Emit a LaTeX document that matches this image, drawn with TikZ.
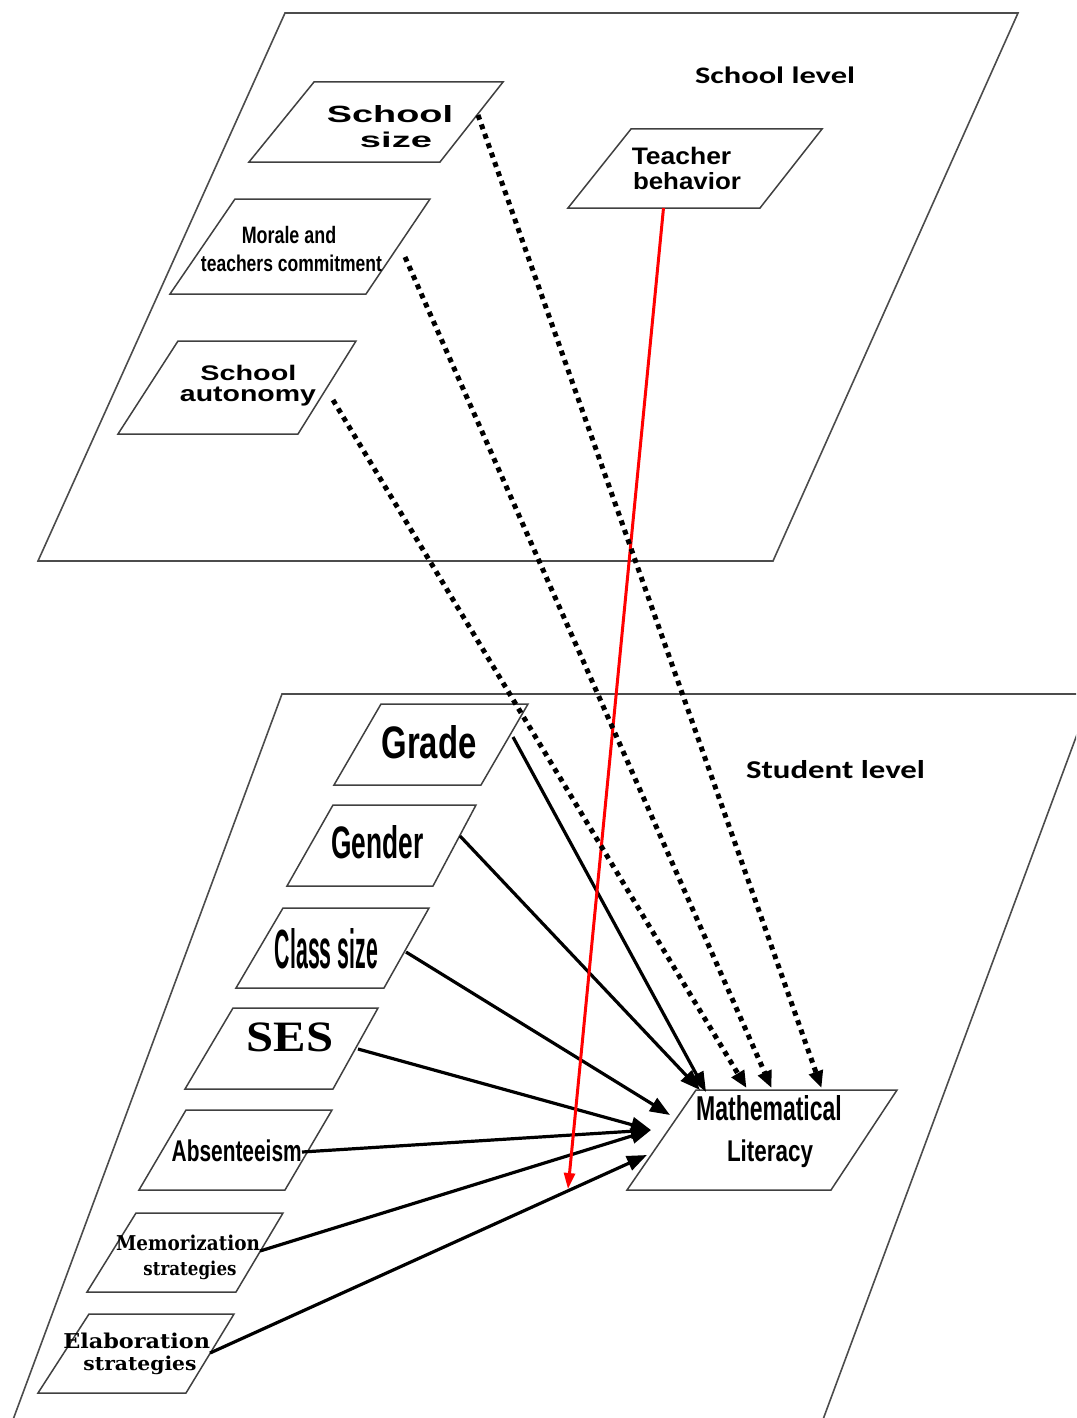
\documentclass[tikz,border=0pt]{standalone}
\usepackage{fontspec}
\usepackage{graphicx}
\usetikzlibrary{arrows.meta}
\newfontfamily\lsans{Liberation Sans}
\newfontfamily\lserif{Liberation Serif}
\newfontfamily\dvserif{DejaVu Serif}
\newfontfamily\calib{Carlito}
\newcommand{\fitt}[3]{\resizebox{#1pt}{#2pt}{#3}}
\begin{document}
\begin{tikzpicture}[x=1pt,y=-1pt,
  plane/.style={draw=black!70, line width=1.6pt},
  pbox/.style={draw=black!75, line width=1.5pt},
  lbl/.style={anchor=base, inner sep=0pt, outer sep=0pt},
  solidarrow/.style={draw=black, line width=3.2pt, -{Triangle[length=20pt,width=15pt]}},
  dotarrow/.style={draw=black, line width=5pt, dash pattern=on 5pt off 5pt, -{Triangle[length=17pt,width=14pt]}},
  redarrow/.style={draw=red, line width=3pt, -{Triangle[length=16pt,width=11pt]}},
  sansb/.style={font=\lsans\bfseries},
]
\useasboundingbox (0,0) rectangle (1076,1418);
\clip (0,0) rectangle (1076,1418);

% planes
\draw[plane] (285,13) -- (1018,13) -- (773,561) -- (38,561) -- cycle;
\draw[plane] (282,694) -- (1092,694) -- (815.4,1440) -- (5.5,1440) -- cycle;

% school-level boxes
\draw[pbox] (314,82) -- (503,82) -- (440,162) -- (249,162) -- cycle;
\draw[pbox] (631,129) -- (822,129) -- (760,208) -- (568,208) -- cycle;
\draw[pbox] (235,199) -- (430,199) -- (366,294) -- (170,294) -- cycle;
\draw[pbox] (178,341) -- (356,341) -- (298,434) -- (118,434) -- cycle;

% student-level boxes
\draw[pbox] (381,704) -- (528,704) -- (481,785) -- (334,785) -- cycle;
\draw[pbox] (333,805) -- (476,805) -- (433,886) -- (287,886) -- cycle;
\draw[pbox] (283,908) -- (429,908) -- (384,988) -- (236,988) -- cycle;
\draw[pbox] (233,1008) -- (378,1008) -- (333,1089) -- (185,1089) -- cycle;
\draw[pbox] (186,1110) -- (332,1110) -- (285,1190) -- (139,1190) -- cycle;
\draw[pbox] (136,1213) -- (283,1213) -- (236,1292) -- (87,1292) -- cycle;
\draw[pbox] (89,1314) -- (234,1314) -- (186,1393) -- (38,1393) -- cycle;
\draw[pbox] (696,1090) -- (897,1090) -- (831,1190) -- (627,1190) -- cycle;

% connector end points
\coordinate (sizeout) at (478,115);
\coordinate (moraleout) at (405,257);
\coordinate (autoout) at (333,400);
\coordinate (teachout) at (663.5,208);
\coordinate (gradeout) at (513,737);
\coordinate (genderout) at (460,836);
\coordinate (classout) at (406,952);
\coordinate (sesout) at (358,1049);
\coordinate (absout) at (302,1152);
\coordinate (memout) at (260,1251);
\coordinate (elabout) at (210,1353);
\coordinate (mathA) at (706,1092);
\coordinate (mathB) at (700,1090);
\coordinate (mathC) at (670,1115);
\coordinate (mathD) at (651,1130);
\coordinate (mathE) at (647,1155);
\coordinate (mathF) at (746.5,1088);
\coordinate (mathG) at (771.5,1088);
\coordinate (mathH) at (821.5,1088);
\coordinate (redend) at (568,1189);

% solid arrows
\draw[solidarrow] (gradeout) -- (mathA);
\draw[solidarrow] (genderout) -- (mathB);
\draw[solidarrow] (classout) -- (mathC);
\draw[solidarrow] (sesout) -- (mathD);
\draw[solidarrow] (absout) -- (mathD);
\draw[solidarrow] (memout) -- (mathD);
\draw[solidarrow] (elabout) -- (mathE);

% red arrow
\draw[redarrow] (teachout) -- (redend);

% dotted arrows
\draw[dotarrow] (autoout) -- (mathF);
\draw[dotarrow] (moraleout) -- (mathG);
\draw[dotarrow] (sizeout) -- (mathH);

% labels
\node[lbl] (schoollevel) at (775,83.3) {\calib\bfseries\fitt{160}{16.6}{School level}};
\node[lbl] (studentlevel) at (835.5,778.3) {\calib\bfseries\fitt{179}{18}{Student level}};

\node[lbl,sansb] (size1) at (390,123) {\fitt{126}{17}{School}};
\node[lbl,sansb] (size2) at (396,147) {\fitt{72}{15.5}{size}};
\node[lbl,sansb] (teach1) at (681.5,164.6) {\fitt{99.5}{17.3}{Teacher}};
\node[lbl,sansb] (teach2) at (687,189) {\fitt{108}{17}{behavior}};
\node[lbl,sansb] (morale1) at (289,243) {\fitt{94.4}{17.2}{Morale and}};
\node[lbl,sansb] (morale2) at (291.5,271) {\fitt{181}{16.5}{teachers commitment}};
\node[lbl,sansb] (auto1) at (248.4,380.8) {\fitt{96}{15.3}{School}};
\node[lbl,sansb] (auto2) at (248,401) {\fitt{136}{14.5}{autonomy}};

\node[lbl,sansb] (grade) at (429,758) {\fitt{95}{33}{Grade}};
\node[lbl,sansb] (gender) at (377.5,858) {\fitt{92}{33}{Gender}};
\node[lbl,sansb] (classsize) at (326.5,968) {\fitt{103}{40}{Class size}};
\node[lbl] (ses) at (290,1051.7) {\lserif\bfseries\fitt{86.6}{28.7}{SES}};
\node[lbl,sansb] (absent) at (236.7,1161.7) {\fitt{130}{21.7}{Absenteeism}};
\node[lbl] (mem1) at (188,1250) {\dvserif\bfseries\fitt{144}{15.5}{Memorization}};
\node[lbl] (mem2) at (190,1275) {\dvserif\bfseries\fitt{93}{14.5}{strategies}};
\node[lbl] (elab1) at (136.7,1348.3) {\dvserif\bfseries\fitt{146.7}{15.5}{Elaboration}};
\node[lbl] (elab2) at (140,1370) {\dvserif\bfseries\fitt{113}{14.5}{strategies}};
\node[lbl,sansb] (math1) at (769,1120) {\fitt{145.7}{25}{Mathematical}};
\node[lbl,sansb] (math2) at (770,1161.7) {\fitt{86}{21.7}{Literacy}};
\end{tikzpicture}
\end{document}
